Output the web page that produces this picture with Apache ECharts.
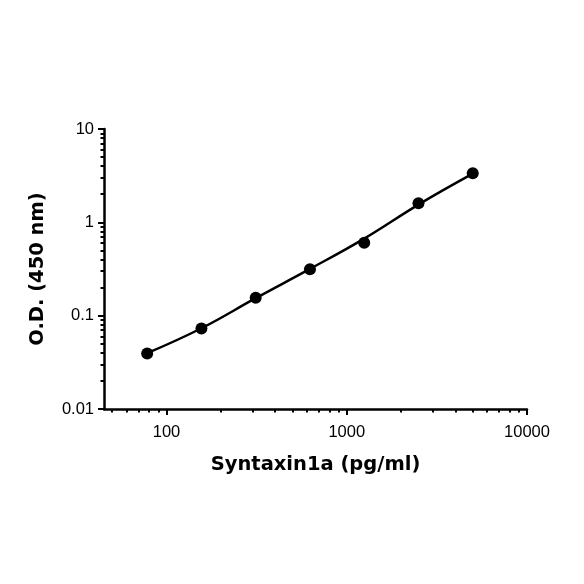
<!DOCTYPE html>
<html>
<head>
<meta charset="utf-8">
<script src="https://cdn.jsdelivr.net/npm/echarts@6/dist/echarts.min.js"></script>
<style>
  html, body { margin: 0; padding: 0; background: #fff; }
  #chart { width: 584px; height: 584px; }
</style>
</head>
<body>
<div id="chart"></div>
<script>
// standard concentrations (pg/ml) and measured O.D.
var conc = [78.125, 156.25, 312.5, 625, 1250, 2500, 5000]
var od = [0.0394, 0.0728, 0.156, 0.315, 0.604, 1.60, 3.35]
// fitted curve at the same concentrations
var fitOd = [0.0396, 0.0733, 0.154, 0.317, 0.67, 1.55, 3.32]

var xMajor = [100, 1000, 10000]
var xMinor = [50, 60, 70, 80, 90, 200, 300, 400, 500, 600, 700, 800, 900,
  2000, 3000, 4000, 5000, 6000, 7000, 8000, 9000]
var yMajor = [0.01, 0.1, 1, 10]
var yMinor = [0.02, 0.03, 0.04, 0.05, 0.06, 0.07, 0.08, 0.09,
  0.2, 0.3, 0.4, 0.5, 0.6, 0.7, 0.8, 0.9,
  2, 3, 4, 5, 6, 7, 8, 9]

var titleFont = 'DejaVu Sans'
var tickFont = 'Liberation Sans'

function pairs(xs, ys) {
  var out = []
  for (let i = 0; i < xs.length; i++) out.push([xs[i], ys[i]])
  return out
}

function plainNum(v) {
  return String(+v.toPrecision(6))
}

var myChart = echarts.init(document.getElementById('chart'))

var baseX = { type: 'log', logBase: 10, min: 45, max: 10000, position: 'bottom', splitLine: { show: false } }
var baseY = { type: 'log', logBase: 10, min: 0.01, max: 10, position: 'left', splitLine: { show: false } }

var option = {
  animation: false,
  grid: { left: 104, right: 57, top: 129, bottom: 175, containLabel: false },
  xAxis: [
    Object.assign({}, baseX, {
      name: 'Syntaxin1a (pg/ml)',
      nameLocation: 'middle',
      nameGap: 46,
      nameTextStyle: { fontFamily: titleFont, fontWeight: 'bold', fontSize: 19.5, color: '#000' },
      axisLine: { lineStyle: { color: '#000', width: 2.5 } },
      axisTick: { customValues: xMajor, length: 6, lineStyle: { color: '#000', width: 2 } },
      axisLabel: { customValues: xMajor, formatter: plainNum, fontFamily: tickFont, fontSize: 16.5, color: '#000', margin: 15 }
    }),
    Object.assign({}, baseX, {
      axisLine: { show: false },
      axisTick: { customValues: xMinor, length: 3.5, lineStyle: { color: '#000', width: 2 } },
      axisLabel: { show: false }
    })
  ],
  yAxis: [
    Object.assign({}, baseY, {
      name: 'O.D. (450 nm)',
      nameLocation: 'middle',
      nameGap: 56,
      nameTextStyle: { fontFamily: titleFont, fontWeight: 'bold', fontSize: 19.5, color: '#000' },
      axisLine: { show: true, lineStyle: { color: '#000', width: 2.5 } },
      axisTick: { show: true, customValues: yMajor, length: 6, lineStyle: { color: '#000', width: 2 } },
      axisLabel: { customValues: yMajor, formatter: plainNum, fontFamily: tickFont, fontSize: 16.5, color: '#000', margin: 10 }
    }),
    Object.assign({}, baseY, {
      axisLine: { show: false },
      axisTick: { show: true, customValues: yMinor, length: 3.5, lineStyle: { color: '#000', width: 2 } },
      axisLabel: { show: false }
    })
  ],
  series: [
    {
      type: 'line',
      name: 'fit',
      data: pairs(conc, fitOd),
      smooth: 0.4,
      showSymbol: false,
      lineStyle: { color: '#000', width: 2.5 },
      z: 2
    },
    {
      type: 'scatter',
      name: 'standards',
      data: pairs(conc, od),
      symbolSize: 12,
      itemStyle: { color: '#000', opacity: 1 },
      z: 3
    }
  ]
}

myChart.setOption(option)
</script>
</body>
</html>
